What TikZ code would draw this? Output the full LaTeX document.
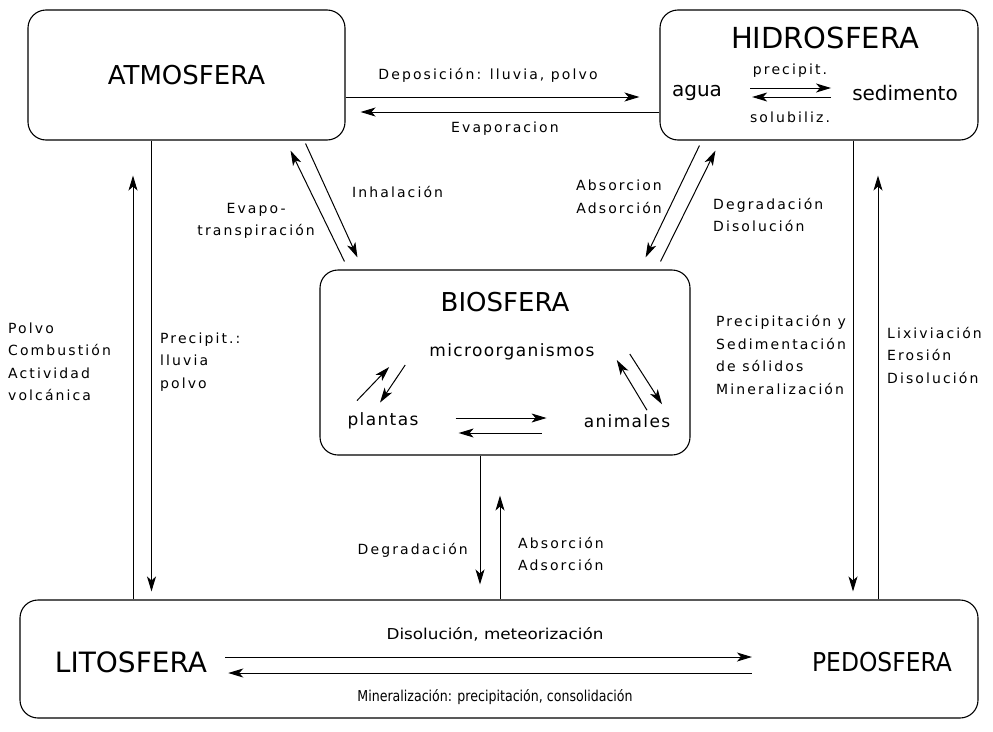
\documentclass[tikz,border=0pt]{standalone}
\usepackage{fontspec}
\usepackage{graphicx}
\setmainfont{DejaVu Sans}
\newfontfamily\lblfont[LetterSpace=15]{DejaVu Sans}
\newfontfamily\midfont[LetterSpace=8]{DejaVu Sans}
\usetikzlibrary{arrows.meta}
\begin{document}
\begin{tikzpicture}[x=1pt,y=-1pt,
  box/.style={draw, line width=1.1pt, rounded corners=18pt, inner sep=0pt},
  arr/.style={-{Stealth[length=15pt,width=9pt,inset=4pt]}, line width=1pt},
  lbl/.style={font=\lblfont\fontsize{14}{22.5}\selectfont, inner sep=0pt},
  plain/.style={font=\fontsize{15}{18}\selectfont, inner sep=0pt},
  big/.style={font=\fontsize{26}{30}\selectfont, inner sep=0pt},
  mid/.style={font=\midfont\fontsize{17}{20}\selectfont, inner sep=0pt},
  hmid/.style={font=\fontsize{20}{24}\selectfont, inner sep=0pt},
]
\useasboundingbox (0,0) rectangle (993,731);
\fill[white] (0,0) rectangle (993,731);

% boxes
\node[box, big, minimum width=317pt, minimum height=130pt] (atm) at (186.5,75) {ATMOSFERA};
\node[box, minimum width=318pt, minimum height=130pt] (hid) at (819,75) {};
\node[box, minimum width=370pt, minimum height=185pt] (bio) at (505,362.5) {};
\node[box, minimum width=958pt, minimum height=118pt] (lit) at (499,659) {};

% hidrosfera contents
\node[big, font=\fontsize{29}{33}\selectfont] (hidt) at (825,38) {HIDROSFERA};
\node[hmid] (agua) at (697,93) {agua};
\node[hmid] (sed) at (905,93) {sedimento};
\node[lbl] (precip) at (790,71) {precipit.};
\node[lbl] (solub) at (790,117) {solubiliz.};
\draw[arr] ([shift={(28,-5)}]agua.east) -- ([shift={(-21,-5)}]sed.west);
\draw[arr] ([shift={(-21,4)}]sed.west) -- ([shift={(30,4)}]agua.east);

% atm - hid
\node[lbl] (dep) at (488,75) {Deposición: lluvia, polvo};
\node[lbl] (evap) at (505,129) {Evaporacion};
\draw[arr, shorten >=20pt] ([shift={(0,22)}]atm.east) -- ([shift={(0,22)}]hid.west);
\draw[arr, shorten >=15pt] ([shift={(0,37)}]hid.west) -- ([shift={(0,37)}]atm.east);

% biosfera contents
\node[big] (biot) at (505,302) {BIOSFERA};
\node[mid] (micro) at (512,352) {microorganismos};
\node[mid] (plantas) at (383,421) {plantas};
\node[mid] (animales) at (627,421) {animales};
\draw[arr] ([shift={(37,-3)}]plantas.east) -- ([shift={(-37,-3)}]animales.west);
\draw[arr] ([shift={(-42,12)}]animales.west) -- ([shift={(40,12)}]plantas.east);
\draw[arr] ([shift={(-26,-12)}]plantas.north) -- ([shift={(-40,15)}]micro.west);
\draw[arr] ([shift={(-24,13)}]micro.west) -- ([shift={(-3,-10)}]plantas.north);
\draw[arr] ([shift={(20,-4)}]animales.north) -- ([shift={(22,8)}]micro.east);
\draw[arr] ([shift={(35,2)}]micro.east) -- ([shift={(35,-10)}]animales.north);

% atm - bio diagonals
\draw[arr] ([shift={(-40,3)}]atm.south east) -- ([shift={(38,-12)}]bio.north west);
\draw[arr] ([shift={(25,-8)}]bio.north west) -- ([shift={(-55,10)}]atm.south east);
\node[lbl, anchor=west] (inh) at (352,192) {Inhalación};
\node[lbl, align=center, anchor=east] (evtr) at (315,221) {Evapo-\\transpiración};

% hid - bio diagonals
\draw[arr] ([shift={(40,5)}]hid.south west) -- ([shift={(-45,-12)}]bio.north east);
\draw[arr] ([shift={(-30,-8)}]bio.north east) -- ([shift={(56,10)}]hid.south west);
\node[lbl, align=right, anchor=east] (absA) at (662,197) {Absorcion\\Adsorción};
\node[lbl, align=left, anchor=west] (degD) at (713,215) {Degradación\\Disolución};

% atm - lit verticals
\draw[arr, shorten >=8pt] ([shift={(-35,0)}]atm.south) coordinate (a1) -- (a1 |- lit.north);
\draw[arr, shorten >=35pt] ([shift={(-366,0)}]lit.north) coordinate (a2) -- (a2 |- atm.south);
\node[lbl, align=left, anchor=west] (polvo) at (8,362) {Polvo\\Combustión\\Actividad\\volcánica};
\node[lbl, align=left, anchor=west] (precL) at (160,362) {Precipit.:\\lluvia\\polvo};

% hid - lit verticals
\draw[arr, shorten >=8pt] ([shift={(34,0)}]hid.south) coordinate (h1) -- (h1 |- lit.north);
\draw[arr, shorten >=35pt] ([shift={(379,0)}]lit.north) coordinate (h2) -- (h2 |- hid.south);
\node[lbl, align=left, anchor=west] (precR) at (716,355) {Precipitación y\\Sedimentación\\de sólidos\\Mineralización};
\node[lbl, align=left, anchor=west] (lixi) at (887,355) {Lixiviación\\Erosión\\Disolución};

% bio - lit verticals
\draw[arr, shorten >=15pt] ([shift={(-25,0)}]bio.south) coordinate (b1) -- (b1 |- lit.north);
\draw[arr, shorten >=40pt] ([shift={(1,0)}]lit.north) coordinate (b2) -- (b2 |- bio.south);
\node[lbl, anchor=east] (degr) at (468,550) {Degradación};
\node[lbl, align=left, anchor=west] (absB) at (518,554) {Absorción\\Adsorción};

% litosfera contents
\node[big, font=\fontsize{28}{32}\selectfont] (litt) at (131,662) {LITOSFERA};
\node[big] (pedo) at (882,662) {\scalebox{0.9}[1]{PEDOSFERA}};
\node[plain] (disol) at (495,634) {\scalebox{1.12}[1]{Disolución, meteorización}};
\node[plain] (miner) at (495,697) {\scalebox{0.84}[1]{Mineralización: precipitación, consolidación}};
\draw[arr] ([shift={(18,-5)}]litt.east) -- ([shift={(-60,-5)}]pedo.west);
\draw[arr] ([shift={(-60,11)}]pedo.west) -- ([shift={(21,11)}]litt.east);
\end{tikzpicture}
\end{document}
